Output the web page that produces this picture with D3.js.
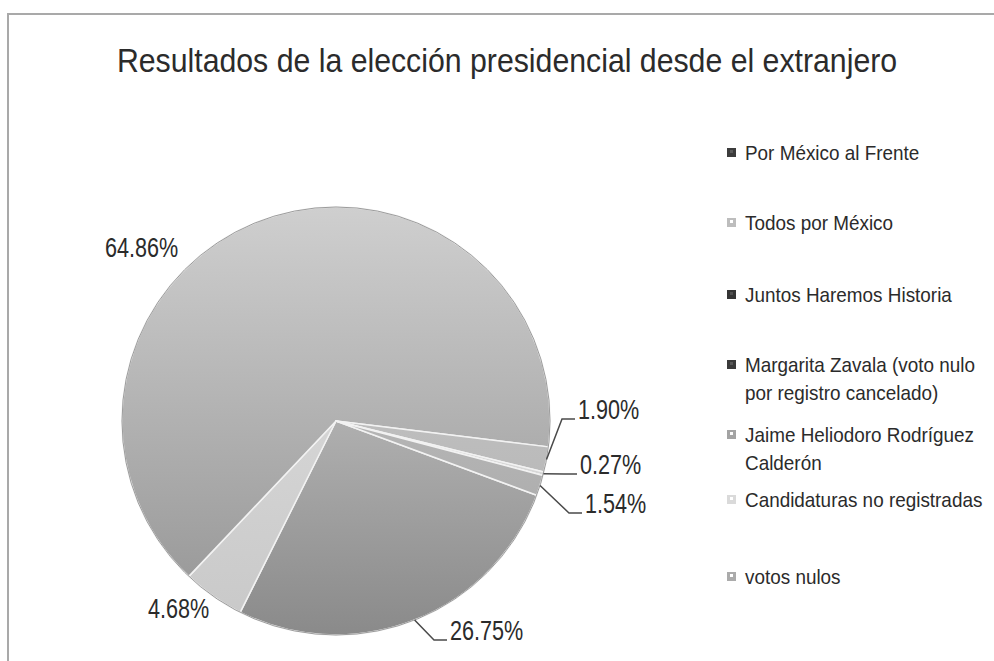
<!DOCTYPE html>
<html><head><meta charset="utf-8">
<script src="https://cdn.jsdelivr.net/npm/d3@7"></script>
<style>
html,body{margin:0;padding:0;background:#fff;}
svg{display:block;}
text{font-family:"Liberation Sans",Arial,sans-serif;fill:#2b2b2b;}
</style></head>
<body>
<script>
// ---- data ----
const title = "Resultados de la elección presidencial desde el extranjero";
const categories = [
  "Por México al Frente",
  "Todos por México",
  "Juntos Haremos Historia",
  "Margarita Zavala (voto nulo por registro cancelado)",
  "Jaime Heliodoro Rodríguez Calderón",
  "Candidaturas no registradas",
  "votos nulos"
];
const legendLines = [
  ["Por México al Frente"],
  ["Todos por México"],
  ["Juntos Haremos Historia"],
  ["Margarita Zavala (voto nulo", "por registro cancelado)"],
  ["Jaime Heliodoro Rodríguez", "Calderón"],
  ["Candidaturas no registradas"],
  ["votos nulos"]
];
const values = [26.75, 4.68, 64.86, 1.90, 0.27, 0.00, 1.54];

// ---- styles / layout ----
const sliceTop    = ["#d4d4d4", "#e2e2e2", "#cfcfcf", "#cbcbcb", "#e6e6e6", "#eeeeee", "#c6c6c6"];
const sliceBottom = ["#8a8a8a", "#c8c8c8", "#939393", "#b0b0b0", "#cecece", "#dddddd", "#a4a4a4"];
const markerColors = ["#3c3c3c", "#bdbdbd", "#353535", "#3a3a3a", "#a3a3a3", "#dadada", "#ababab"];
const labelOffsets = [ [114, 219], [-188, 197], [-231, -164], [242, -2], [244, 53], null, [249, 92] ];
const showLeader   = [true, false, false, true, true, false, true];

const W = 994, H = 661;
const cx = 336, cy = 421, R = 214;
const startDeg = 110.3;

const svg = d3.select("body").append("svg").attr("width", W).attr("height", H);

// condensed text helper
function ctext(parent, x, y, size, sx, anchor) {
  return parent.append("text")
    .attr("transform", `translate(${x},${y}) scale(${sx},1)`)
    .attr("text-anchor", anchor || "start")
    .style("font-size", size + "px");
}

// frame
svg.append("path").attr("d", `M7,14 H${W} M8,14 V${H}`)
  .attr("stroke", "#a9a9a9").attr("stroke-width", 2).attr("fill", "none");

// title
ctext(svg, 507, 72, 34, 0.89, "middle").text(title);

// gradients (in the pie group's coordinate system)
const defs = svg.append("defs");
categories.forEach((c, i) => {
  const g = defs.append("linearGradient").attr("id", "g" + i)
    .attr("gradientUnits", "userSpaceOnUse")
    .attr("x1", 0).attr("x2", 0).attr("y1", -R).attr("y2", R);
  g.append("stop").attr("offset", "0%").attr("stop-color", sliceTop[i]);
  g.append("stop").attr("offset", "100%").attr("stop-color", sliceBottom[i]);
});

const pie = d3.pie().sort(null).value(d => d)
  .startAngle(startDeg * Math.PI / 180)
  .endAngle(startDeg * Math.PI / 180 + 2 * Math.PI);
const arcs = pie(values);
const arc = d3.arc().innerRadius(0).outerRadius(R);

const gp = svg.append("g").attr("transform", `translate(${cx},${cy})`);
gp.selectAll("path.slice").data(arcs).enter().append("path")
  .attr("class", "slice")
  .attr("d", arc)
  .attr("fill", (d, i) => `url(#g${i})`)
  .attr("stroke", "#f2f2f2").attr("stroke-width", 1.5)
  .attr("stroke-linejoin", "round");
gp.append("circle").attr("r", R).attr("fill", "none")
  .attr("stroke", "#9c9c9c").attr("stroke-width", 1);

// labels + leaders
const fmt = v => v.toFixed(2) + "%";
arcs.forEach((d, i) => {
  if (d.data === 0 || !labelOffsets[i]) return;
  const [lx, ly] = labelOffsets[i];
  if (showLeader[i]) {
    const mid = (d.startAngle + d.endAngle) / 2;
    const sx = Math.sin(mid) * R, sy = -Math.cos(mid) * R;
    const ex = lx - 3, ey = ly;
    const elx = ex - 13;
    gp.append("path")
      .attr("d", `M${sx},${sy} L${elx},${ey} L${ex},${ey}`)
      .attr("fill", "none").attr("stroke", "#4a4a4a").attr("stroke-width", 1.5);
  }
  ctext(gp, lx, ly, 27, 0.8).text(fmt(d.data));
});

// legend
const legendY = [153, 223, 295, 365, 435, 500, 577];
const lg = svg.append("g");
categories.forEach((c, i) => {
  const y = legendY[i];
  lg.append("rect").attr("x", 727).attr("y", y - 5).attr("width", 9).attr("height", 9)
    .attr("fill", markerColors[i]);
  lg.append("rect").attr("x", 730).attr("y", y - 3).attr("width", 3).attr("height", 3)
    .attr("fill", d3.color(markerColors[i]).brighter(1.2));
  const t = ctext(lg, 745, y + 7, 21, 0.9);
  legendLines[i].forEach((ln, k) => {
    t.append("tspan").attr("x", 0).attr("dy", k === 0 ? 0 : 28).text(ln);
  });
});
</script>
</body></html>
